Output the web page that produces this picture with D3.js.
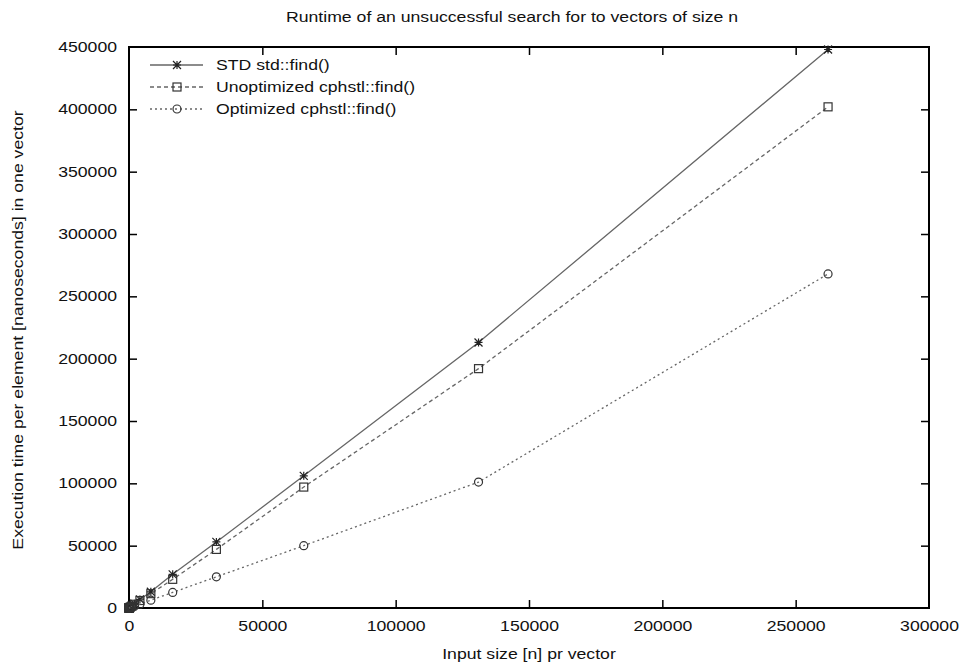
<!DOCTYPE html>
<html>
<head>
<meta charset="utf-8">
<script src="https://cdn.jsdelivr.net/npm/d3@7"></script>
<style>
  body { margin: 0; background: #fff; }
  text { font-family: "Liberation Sans", Arial, sans-serif; fill: #111; }
</style>
</head>
<body>
<div id="chart"></div>
<script>
// input sizes (powers of two) and measured runtimes
var sizes = [1, 2, 4, 8, 16, 32, 64, 128, 256, 512, 1024, 2048, 4096, 8192, 16384, 32768, 65536, 131072, 262144];
var stdFind = [5, 8, 12, 20, 35, 60, 115, 225, 440, 870, 1750, 3450, 6900, 13000, 27000, 53000, 106000, 213000, 448000];
var unoptFind = [4, 6, 10, 16, 28, 52, 100, 195, 390, 770, 1530, 3000, 6000, 11500, 23000, 47000, 97000, 192000, 402000];
var optFind = [3, 4, 6, 9, 15, 26, 48, 90, 180, 350, 720, 1450, 3100, 6300, 12500, 25000, 50000, 101000, 268000];

var seriesNames = ["STD std::find()", "Unoptimized cphstl::find()", "Optimized cphstl::find()"];
var xTicks = [0, 50000, 100000, 150000, 200000, 250000, 300000];
var yTicks = [0, 50000, 100000, 150000, 200000, 250000, 300000, 350000, 400000, 450000];

var width = 964, height = 665;
var margin = { top: 47, right: 35, bottom: 57, left: 129 };

var svg = d3.select("#chart").append("svg")
    .attr("width", width)
    .attr("height", height);

var x = d3.scaleLinear().domain([0, 300000]).range([margin.left, width - margin.right]);
var y = d3.scaleLinear().domain([0, 450000]).range([height - margin.bottom, margin.top]);

var lineColor = "#666";
var series = [
    { name: seriesNames[0], values: stdFind, dash: null, marker: "star" },
    { name: seriesNames[1], values: unoptFind, dash: "4,3", marker: "square" },
    { name: seriesNames[2], values: optFind, dash: "2,3", marker: "circle" }
];

// ticks on all four sides, pointing inward
var tickLen = 8;
var gx = svg.append("g").attr("transform", `translate(0,${y(0)})`)
    .call(d3.axisBottom(x).tickValues(xTicks).tickSize(-tickLen).tickPadding(13).tickFormat(d3.format("d")));
var gxTop = svg.append("g").attr("transform", `translate(0,${y(450000)})`)
    .call(d3.axisTop(x).tickValues(xTicks).tickSize(-tickLen).tickFormat(""));
var gy = svg.append("g").attr("transform", `translate(${x(0)},0)`)
    .call(d3.axisLeft(y).tickValues(yTicks).tickSize(-tickLen).tickPadding(12).tickFormat(d3.format("d")));
var gyRight = svg.append("g").attr("transform", `translate(${x(300000)},0)`)
    .call(d3.axisRight(y).tickValues(yTicks).tickSize(-tickLen).tickFormat(""));

[gx, gxTop, gy, gyRight].forEach(function (g) {
    g.select(".domain").remove();
    g.selectAll(".tick line").attr("stroke", "#000").attr("stroke-width", 1.5);
    g.selectAll("text").style("font-size", "14px").style("font-family", "Liberation Sans, Arial, sans-serif").attr("fill", "#111");
});
// keep the corner ticks off the frame
gx.selectAll(".tick").filter(d => d == 0 || d == 300000).select("line").remove();
gxTop.selectAll(".tick").filter(d => d == 0 || d == 300000).select("line").remove();
gy.selectAll(".tick").filter(d => d == 0 || d == 450000).select("line").remove();
gyRight.selectAll(".tick").filter(d => d == 0 || d == 450000).select("line").remove();

// frame
svg.append("rect")
    .attr("x", x(0)).attr("y", y(450000))
    .attr("width", x(300000) - x(0)).attr("height", y(0) - y(450000))
    .attr("fill", "none").attr("stroke", "#000").attr("stroke-width", 2);

var line = d3.line()
    .x(function (d, i) { return x(sizes[i]); })
    .y(function (d) { return y(d); });

function drawMarker(g, type, cx, cy) {
    var s = 4;
    if (type == "star") {
        g.append("path")
            .attr("d", `M${cx - s},${cy}H${cx + s}M${cx},${cy - s}V${cy + s}M${cx - s},${cy - s}L${cx + s},${cy + s}M${cx - s},${cy + s}L${cx + s},${cy - s}`)
            .attr("stroke", "#222").attr("stroke-width", 1.2).attr("fill", "none");
    } else if (type == "square") {
        g.append("rect")
            .attr("x", cx - s).attr("y", cy - s).attr("width", 2 * s).attr("height", 2 * s)
            .attr("stroke", "#333").attr("stroke-width", 1.2).attr("fill", "none");
    } else {
        g.append("circle")
            .attr("cx", cx).attr("cy", cy).attr("r", s)
            .attr("stroke", "#333").attr("stroke-width", 1.2).attr("fill", "none");
    }
}

series.forEach(function (s) {
    svg.append("path")
        .datum(s.values)
        .attr("d", line)
        .attr("fill", "none")
        .attr("stroke", lineColor)
        .attr("stroke-width", 1.3)
        .attr("stroke-dasharray", s.dash);
    var g = svg.append("g");
    s.values.forEach(function (v, i) {
        drawMarker(g, s.marker, x(sizes[i]), y(v));
    });
});

// legend
var legend = svg.append("g");
series.forEach(function (s, i) {
    var ly = 65 + i * 22;
    legend.append("line")
        .attr("x1", 150).attr("x2", 203).attr("y1", ly).attr("y2", ly)
        .attr("stroke", lineColor).attr("stroke-width", 1.3)
        .attr("stroke-dasharray", s.dash);
    drawMarker(legend, s.marker, 177, ly);
    legend.append("text")
        .attr("x", 216).attr("y", ly + 5)
        .style("font-size", "14px")
        .text(s.name);
});

// titles
svg.append("text")
    .attr("x", 512).attr("y", 22)
    .attr("text-anchor", "middle")
    .style("font-size", "14px")
    .text("Runtime of an unsuccessful search for to vectors of size n");

svg.append("text")
    .attr("x", 529).attr("y", 659)
    .attr("text-anchor", "middle")
    .style("font-size", "14px")
    .text("Input size [n] pr vector");

svg.append("text")
    .attr("transform", "translate(23,330) rotate(-90)")
    .attr("text-anchor", "middle")
    .style("font-size", "14px")
    .text("Execution time per element [nanoseconds] in one vector");

// the original type is set wider than the font we have: stretch it
svg.selectAll("text").each(function () {
    var w = this.getComputedTextLength();
    if (w > 0) {
        d3.select(this).attr("textLength", w * 1.26).attr("lengthAdjust", "spacingAndGlyphs");
    }
});
</script>
</body>
</html>
